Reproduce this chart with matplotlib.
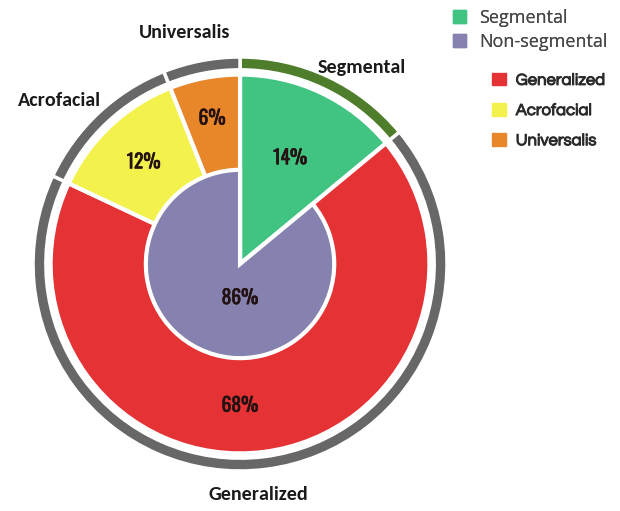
import matplotlib
matplotlib.use("Agg")
import matplotlib.pyplot as plt
from matplotlib.patches import Patch
import matplotlib.patheffects as pe
import numpy as np

# share of each type (percent)
types = ["Segmental", "Generalized", "Acrofacial", "Universalis"]
type_pct = [14, 68, 12, 6]
groups = ["Segmental", "Non-segmental"]
group_pct = [14, 86]

green = "#41c482"
purple = "#8582b0"
red = "#e43235"
yellow = "#f3f24c"
orange = "#e8862a"
ring_green = "#4e7d2c"
ring_gray = "#676767"

fig = plt.figure(figsize=(6.2, 5.11), dpi=100)
# axes placed so the pie sits left of the legend
ax = fig.add_axes([-0.0135, -0.0027, 0.8013, 0.9722])

# thin outer ring
ax.pie(type_pct, radius=1.0, startangle=90, counterclock=False,
       colors=[ring_green, ring_gray, ring_gray, ring_gray],
       wedgeprops=dict(width=0.062, edgecolor="white", linewidth=2.5))

# main ring, segmental wedge runs to the centre
ax.pie(type_pct, radius=0.915, startangle=90, counterclock=False,
       colors=[green, red, yellow, orange],
       wedgeprops=dict(edgecolor="white", linewidth=3))

# inner non-segmental disc
inner, _ = ax.pie(group_pct, radius=0.455, startangle=90, counterclock=False,
                  colors=[green, purple],
                  wedgeprops=dict(edgecolor="white", linewidth=3))
inner[0].set_visible(False)

ax.set_xlim(-1.2, 1.2)
ax.set_ylim(-1.2, 1.2)
ax.set_aspect("equal")
ax.axis("off")

pct_color = "#241212"
pct_font = dict(family=["Oswald", "DejaVu Sans"], fontsize=14, color=pct_color,
                ha="center", va="center",
                path_effects=[pe.withStroke(linewidth=0.45, foreground=pct_color)])

# percent labels along each wedge's middle angle
ends = 90 - np.cumsum(type_pct) * 3.6
mids = ends + np.array(type_pct) * 1.8
label_r = [0.57, 0.68, 0.68, 0.72]
for name, pct, a, r in zip(types, type_pct, mids, label_r):
    if name == "Generalized":
        a = -90
    t = np.deg2rad(a)
    ax.text(r * np.cos(t), r * np.sin(t), f"{pct}%", **pct_font)
ax.text(0, -0.16, f"{group_pct[1]}%", **pct_font)

name_font = dict(family=["Carlito", "DejaVu Sans"], fontweight="bold", fontsize=14.5,
                 color="#1a1a1a", ha="center", va="center")
ax.text(0.59, 0.95, "Segmental", **name_font)
ax.text(-0.266, 1.116, "Universalis", **name_font)
ax.text(-0.87, 0.792, "Acrofacial", **name_font)
ax.text(0.087, -1.116, "Generalized", **name_font)

leg1 = fig.legend([Patch(color=green), Patch(color=purple)], groups,
                  loc="upper left", bbox_to_anchor=(0.705, 1.014), frameon=False,
                  handlelength=0.7, handleheight=0.7, handletextpad=0.75,
                  labelspacing=0.3,
                  prop=dict(family=["Open Sans", "DejaVu Sans"], size=13))
for t in leg1.get_texts():
    t.set_color("#474747")
fig.add_artist(leg1)

leg2 = fig.legend([Patch(color=red), Patch(color=yellow), Patch(color=orange)],
                  types[1:], loc="upper left", bbox_to_anchor=(0.77, 0.887),
                  frameon=False, handlelength=0.8, handleheight=0.8,
                  handletextpad=0.6, labelspacing=0.9,
                  prop=dict(family=["Questrial", "DejaVu Sans"], size=12))
for t in leg2.get_texts():
    t.set_color("#2a2a2a")
    t.set_path_effects([pe.withStroke(linewidth=0.7, foreground="#2a2a2a")])

fig.savefig("out.png", dpi=100)
